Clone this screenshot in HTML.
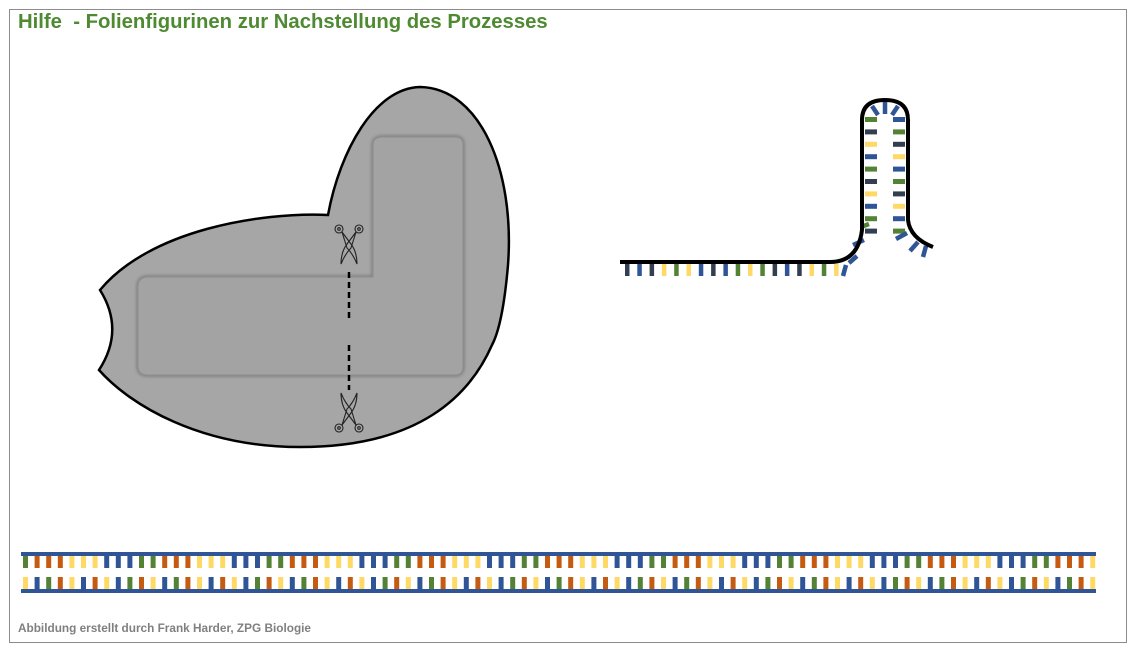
<!DOCTYPE html>
<html><head><meta charset="utf-8"><style>
body{margin:0;background:#fff;font-family:"Liberation Sans",sans-serif}
#f{position:absolute;left:9px;top:9px;width:1118px;height:634px;border:1px solid #8c8c8c;box-sizing:border-box}
h1{position:absolute;left:18px;top:11px;margin:0;font-size:20.3px;font-weight:bold;color:#4e8a32}
.c{position:absolute;left:18px;top:621px;font-size:11.8px;font-weight:bold;color:#808080}
svg{position:absolute;left:0;top:0}
</style></head><body>
<div id="f"></div>
<h1>Hilfe &nbsp;- Folienfigurinen zur Nachstellung des Prozesses</h1>
<svg width="1136" height="653" id="s">
<defs>
<filter id="bl"><feGaussianBlur stdDeviation="1.5"/></filter>
<g id="sc" fill="none" stroke="#222" stroke-width="1.1">
<circle cx="-10" cy="-11" r="4"/><circle cx="10" cy="-11" r="4"/>
<circle cx="-10" cy="-11" r="1.3"/><circle cx="10" cy="-11" r="1.3"/>
<path d="M-7,-8 L2,4 Q8,12 8,24 Q4,14 -2,8 L-7,-8 M7,-8 L-2,4 Q-8,12 -8,24 Q-4,14 2,8 L7,-8"/>
</g>
</defs>
<path d="M100,290 C150,230 260,212 328,215 C340,150 375,88 420,87 C480,88 515,170 508,265 C505,300 500,330 492,345 C470,395 420,447 300,447 C200,447 130,405 99,370 Q125,330 100,290 Z" fill="#a6a6a6" stroke="#000" stroke-width="2.5"/>
<path d="M383,137 H455 Q463,137 463,145 V366 Q463,375 455,375 H148 Q138,375 138,366 V287 Q138,277 148,277 H373 V145 Q373,137 383,137 Z" fill="none" stroke="#7a7a7a" stroke-width="3" filter="url(#bl)"/>
<path d="M383,137 H455 Q463,137 463,145 V366 Q463,375 455,375 H148 Q138,375 138,366 V287 Q138,277 148,277 H373 V145 Q373,137 383,137 Z" fill="#a3a3a3" stroke="#8e8e8e" stroke-width="1"/>
<path d="M349,272 V318 M349,345 V390" stroke="#000" stroke-width="2.5" stroke-dasharray="6,4"/>
<use href="#sc" x="349" y="240"/>
<use href="#sc" x="349" y="417" transform="rotate(180 349 417)"/>
<g id="hp"></g>
<path d="M620,262 H830 Q858,262 862,230 V120 Q862,100 885,100 Q908,100 908,120 V220 Q910,238 933,247" fill="none" stroke="#000" stroke-width="4"/>
<g id="dna"></g>
<rect x="21" y="552" width="1075" height="4" fill="#2f5597"/>
<rect x="21" y="589" width="1075" height="4" fill="#2f5597"/>
</svg>
<div class="c">Abbildung erstellt durch Frank Harder, ZPG Biologie</div>
<script>
var cols=["#2f5597","#ffd966","#c55a11","#548235"];
var hc=["#333f50","#548235","#2f5597","#ffd966"];
var s="",x,i=0;
function r(a){return cols[(a*7+3)%11%4]}
for(x=23;x<1092;x+=11.6,i++){
s+='<rect x="'+x+'" y="556" width="5" height="12" fill="'+r(i)+'"/>';
s+='<rect x="'+x+'" y="577" width="5" height="12" fill="'+r(i*3+5)+'"/>';}
document.getElementById("dna").innerHTML=s;
var h="";i=0;
for(x=625;x<840;x+=12.3,i++)h+='<rect x="'+x+'" y="264" width="4.5" height="12" fill="'+hc[(i*5+i%3)%4]+'"/>';
for(var y=117,j=0;y<232;y+=12.4,j++){
h+='<rect x="865" y="'+y+'" width="12" height="5" fill="'+hc[(j*3+1)%4]+'"/>';
h+='<rect x="893" y="'+y+'" width="12" height="5" fill="'+hc[(j*3+2)%4]+'"/>';}
h+='<path d="M846,265 l-3,11 M857,256 l-8,7 M864,240 l-11,5 M872,106 l6,9 M885,102 v12 M898,106 l-6,9" stroke="#2f5597" stroke-width="4.5"/>';
h+='<path d="M907,233 l-11,6 M918,242 l-8,9 M926,246 l-3,11" stroke="#2f5597" stroke-width="4.5"/>';
h+='<path d="M869,224 l-8,3" stroke="#548235" stroke-width="4.5"/>';
document.getElementById("hp").innerHTML=h;
</script>
</body></html>
